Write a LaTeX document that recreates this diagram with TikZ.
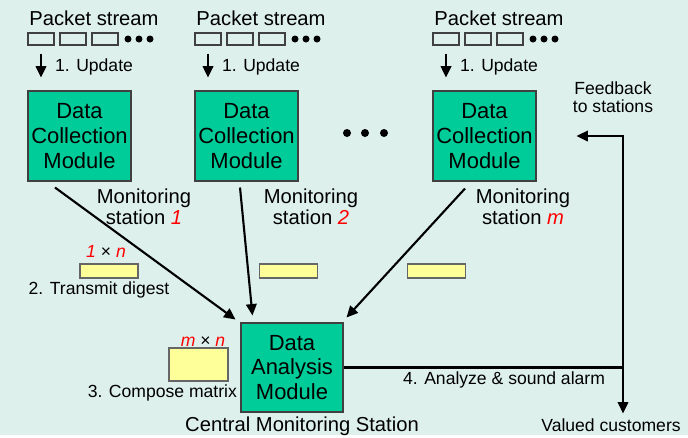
\documentclass[tikz,border=0pt]{standalone}
\usepackage{fontspec}
\setmainfont{Liberation Sans}
\usetikzlibrary{arrows.meta}

\begin{document}
\begin{tikzpicture}[x=0.02cm, y=-0.02cm, >={Triangle[length=6.5pt,width=6pt]},
  every node/.style={font=\fontsize{10}{11}\selectfont, inner sep=1pt},
  module/.style={draw=black!75, line width=0.6pt, fill=Module, minimum width=2.06cm, minimum height=1.8cm, inner sep=0pt, align=center, font=\fontsize{12.5}{14.2}\selectfont},
  pkt/.style={draw=black!75, line width=0.6pt, minimum width=0.52cm, minimum height=0.24cm, inner sep=0pt},
  digest/.style={draw=black!60, line width=0.6pt, fill=Digest, minimum width=1.16cm, minimum height=0.28cm, inner sep=0pt},
  big/.style={font=\fontsize{11.5}{10.5}\selectfont, align=center},
  flow/.style={->, line width=1.2pt}]
\definecolor{Canvas}{HTML}{DDF0EC}\definecolor{Module}{HTML}{00CC99}\definecolor{Digest}{HTML}{FFFF99}
\fill[Canvas] (0,0) rectangle (688,435);
\foreach \s/\c in {1/79.5,2/246.5,3/484.5} \node[module] (dcm\s) at (\c,136) {Data\\Collection\\Module};
\foreach \s/\b in {1/41,2/208,3/446}{
  \foreach \i in {0,1,2} \node[pkt] (pkt\s-\i) at (\b+32*\i,39) {};
  \foreach \d in {87,98,109} \fill (\b+\d,39) circle[radius=0.07cm];
  \node[big] (ps\s) at (\b+53,18) {Packet stream};
  \node[anchor=west] (up\s) at (\b+12,67) {1. Update};
  \draw[flow, shorten <=0.16cm, shorten >=0.26cm] (pkt\s-0.south) -- (pkt\s-0.south |- dcm\s.north);
}
\foreach \x in {347,365,384} \fill (\x,133) circle[radius=0.08cm];
\node[big] (ms1) at (144,207) {Monitoring\\station {\color{red}\itshape 1}};
\node[big] (ms2) at (311,207) {Monitoring\\station {\color{red}\itshape 2}};
\node[big] (ms3) at (523,207) {Monitoring\\station {\color{red}\itshape m}};
\node[digest] (dig1) at (109,271) {}; \node[digest] (dig2) at (288.5,271) {}; \node[digest] (dig3) at (436.5,271) {};
\node (dim1) at (106,251) {{\color{red}\itshape 1} × {\color{red}\itshape n}};
\node (tx) at (99,290) {2. Transmit digest};
\node[module, minimum width=2.04cm, minimum height=1.78cm] (dam) at (292,367.5) {Data\\Analysis\\Module};
\node[big] (cms) at (302,426) {Central Monitoring Station};
\node[digest, minimum width=1.18cm, minimum height=0.66cm] (mat) at (198.5,364.5) {};
\node (dimm) at (203,342) {{\color{red}\itshape m} × {\color{red}\itshape n}};
\node[anchor=east] (cmp) at (239,393) {3. Compose matrix};
\draw[flow] ([xshift=-0.49cm,yshift=-0.12cm]dcm1.south) -- ([xshift=-0.1cm,yshift=0.06cm]dam.north west);
\draw[flow] ([xshift=-0.13cm,yshift=-0.12cm]dcm2.south) -- ([xshift=0.24cm,yshift=0.14cm]dam.north west);
\draw[flow] ([xshift=-0.39cm,yshift=-0.14cm]dcm3.south) -- ([xshift=0.06cm,yshift=0.1cm]dam.north east);
\node[align=center, font=\fontsize{10}{10.5}\selectfont] (fbk) at (613,97) {Feedback\\to stations};
\node (vc) at (611,425) {Valued customers};
\coordinate (turn) at (623,136);
\draw[<->, line width=1.2pt, shorten >=0.06cm] ([xshift=0.8cm]dcm3.east) -- (turn) -- (turn |- vc.north);
\draw[line width=1.2pt] (dam.east) -- (dam.east -| turn);
\node[anchor=west] (alarm) at (401,380) {4. Analyze \& sound alarm};
\end{tikzpicture}
\end{document}
